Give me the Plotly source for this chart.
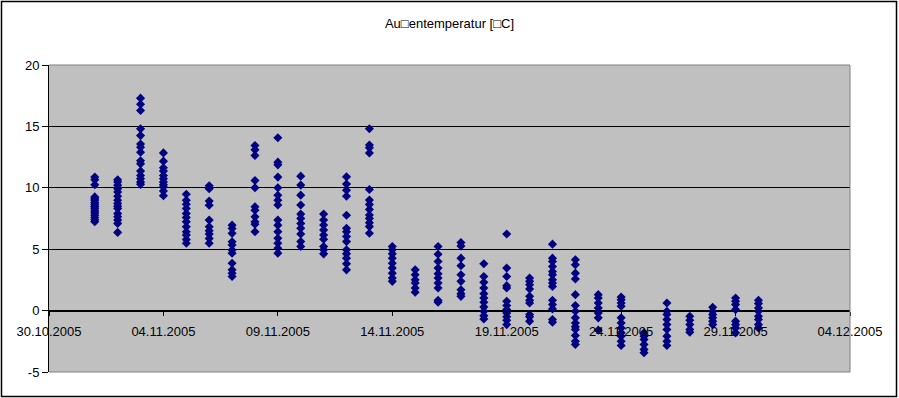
import plotly.graph_objects as go

title_text = "Au\u25a1entemperatur [\u25a1C]"

day_dates = ["2005-11-%02d" % d for d in range(1, 31)]

nov01 = [10.87, 10.66, 10.25, 9.26, 9.1, 8.99, 8.8, 8.66, 8.5, 8.45, 8.3, 8.12, 7.95, 7.77, 7.58, 7.4, 7.23]
nov02 = [10.66, 10.47, 10.2, 9.93, 9.66, 9.31, 8.99, 8.72, 8.5, 8.31, 7.91, 7.64, 7.37, 7.1, 6.37]
nov03 = [17.3, 16.8, 16.3, 14.8, 14.25, 13.57, 13.3, 12.9, 12.2, 11.95, 11.36, 11.0, 10.74, 10.47, 10.28]
nov04 = [12.84, 12.17, 11.63, 11.36, 11.0, 10.74, 10.47, 10.25, 10.06, 9.74, 9.36]
nov05 = [9.47, 8.99, 8.66, 8.31, 7.91, 7.58, 7.23, 6.83, 6.42, 6.15, 5.8, 5.48]
nov06 = [10.17, 9.93, 8.93, 8.58, 7.37, 6.83, 6.5, 6.23, 5.88, 5.48]
nov07 = [6.96, 6.69, 6.29, 5.61, 5.34, 4.94, 4.67, 3.86, 3.32, 3.05, 2.78]
nov08 = [13.44, 13.09, 12.63, 10.6, 10.0, 8.45, 8.18, 7.64, 7.23, 7.04, 6.42]
nov09 = [14.08, 12.09, 11.87, 10.87, 10.0, 9.39, 8.99, 8.6, 7.37, 6.96, 6.43, 5.89, 5.49, 5.08, 4.68]
nov10 = [10.95, 10.22, 9.4, 8.6, 7.86, 7.51, 7.1, 6.7, 6.24, 5.62, 5.22]
nov11 = [7.86, 7.38, 6.97, 6.57, 6.16, 5.81, 5.22, 4.95, 4.62]
nov12 = [10.89, 10.3, 9.81, 9.32, 7.76, 6.7, 6.43, 6.03, 5.62, 4.95, 4.62, 4.27, 3.81, 3.32]
nov13 = [14.81, 13.49, 13.27, 12.84, 9.86, 9.0, 8.65, 8.24, 7.78, 7.51, 7.16, 6.84, 6.3]
nov14 = [5.22, 4.95, 4.62, 4.27, 3.86, 3.46, 3.05, 2.65, 2.38]
nov15 = [3.32, 2.92, 2.51, 2.24, 1.84, 1.49]
nov16 = [5.22, 4.59, 4.0, 3.46, 3.0, 2.65, 2.24, 1.84, 0.84, 0.68]
nov17 = [5.54, 5.27, 4.27, 3.65, 2.92, 2.38, 1.7, 1.38, 1.16]
nov18 = [3.81, 2.78, 2.3, 1.84, 1.38, 1.03, 0.68, 0.3, -0.05, -0.41, -0.68]
nov19 = [6.24, 3.46, 2.78, 2.03, 1.84, 0.76, 0.41, 0.08, -0.19, -0.51, -0.78, -1.14]
nov20 = [2.65, 2.38, 2.11, 1.76, 1.16, 0.84, 0.62, -0.32, -0.51, -0.86]
nov21 = [5.41, 4.27, 4.0, 3.59, 3.19, 2.92, 2.51, 2.24, 1.97, 0.84, 0.49, 0.14, -0.73, -0.95]
nov22 = [4.14, 3.73, 3.05, 2.57, 1.3, 0.41, -0.05, -0.59, -1.0, -1.32, -1.54, -2.03, -2.49, -2.76]
nov23 = [1.3, 1.03, 0.62, 0.22, -0.19, -0.59, -1.59]
nov24 = [1.11, 0.89, 0.62, 0.35, -0.59, -1.0, -1.41, -1.81, -2.08, -2.49, -2.84]
nov25 = [-1.81, -2.08, -2.35, -2.76, -3.16, -3.43]
nov26 = [0.62, -0.05, -0.32, -0.73, -1.14, -1.54, -2.08, -2.49, -2.84]
nov27 = [-0.46, -0.78, -1.14, -1.54, -1.76]
nov28 = [0.27, -0.05, -0.32, -0.59, -0.86, -1.14]
nov29 = [1.03, 0.76, 0.49, 0.08, -0.86, -1.14, -1.41, -1.81]
nov30 = [0.84, 0.57, 0.22, -0.05, -0.46, -0.73, -1.14, -1.41]

daily_values = [nov01, nov02, nov03, nov04, nov05, nov06, nov07, nov08, nov09, nov10,
                nov11, nov12, nov13, nov14, nov15, nov16, nov17, nov18, nov19, nov20,
                nov21, nov22, nov23, nov24, nov25, nov26, nov27, nov28, nov29, nov30]

y_tick_values = [-5, 0, 5, 10, 15, 20]
y_tick_labels = ["-5", "0", "5", "10", "15", "20"]

xs, ys = [], []
for d, vals in zip(day_dates, daily_values):
    for v in vals:
        xs.append(d)
        ys.append(v)

x_range = ["2005-10-30", "2005-12-04"]
y_range = [-5, 20]

font_family = "Liberation Sans, Arial, sans-serif"

fig = go.Figure()
fig.add_trace(go.Scatter(
    x=xs, y=ys, mode="markers",
    marker=dict(symbol="diamond", size=7, color="#000080", line=dict(width=0)),
    hoverinfo="x+y", showlegend=False,
))

W, H = 899, 398
L, R, T, B = 49, 49, 65, 26
pw, ph = W - L - R, H - T - B

fig.update_layout(
    width=W, height=H,
    margin=dict(l=L, r=R, t=T, b=B, pad=0, autoexpand=False),
    paper_bgcolor="white",
    plot_bgcolor="#C0C0C0",
    font=dict(family=font_family, size=13, color="black"),
    title=dict(text=title_text, x=0.5, xref="paper", xanchor="center",
               y=1 - 23 / H, yanchor="middle", font=dict(size=13, color="black")),
    showlegend=False,
)

fig.update_xaxes(
    type="date", range=x_range,
    tick0="2005-10-30", dtick=5 * 86400000, tickformat="%d.%m.%Y",
    anchor="free", position=0.2, automargin=False,
    showline=True, linecolor="black", linewidth=1,
    ticks="outside", ticklen=4, tickcolor="black",
    ticklabelstandoff=5,
    showgrid=False, zeroline=False,
    tickfont=dict(size=13, color="black"),
)
fig.update_yaxes(
    range=y_range, tickmode="array", tickvals=y_tick_values, ticktext=y_tick_labels,
    automargin=False,
    showline=True, linecolor="black", linewidth=1,
    ticks="outside", ticklen=6, tickcolor="black",
    showgrid=True, gridcolor="black", gridwidth=1,
    zeroline=False,
    tickfont=dict(size=13, color="black"),
)

# plot area border (top, right, bottom) in gray
for x0, y0, x1, y1 in [(0, 1, 1, 1), (1, 0, 1, 1), (0, 0, 1, 0)]:
    fig.add_shape(type="line", xref="paper", yref="paper", x0=x0, y0=y0, x1=x1, y1=y1,
                  line=dict(color="#808080", width=1), layer="above")

# chart area outer border
fig.add_shape(type="rect", xref="paper", yref="paper",
              x0=(1.5 - L) / pw, x1=(896.5 - L) / pw,
              y0=(H - B - 396.5) / ph, y1=(H - B - 1.5) / ph,
              line=dict(color="black", width=1.5), layer="above")

fig.write_html(
    "out.html",
    config={"displayModeBar": False},
    post_script="document.body.style.margin='0';document.body.style.overflow='hidden';",
)
